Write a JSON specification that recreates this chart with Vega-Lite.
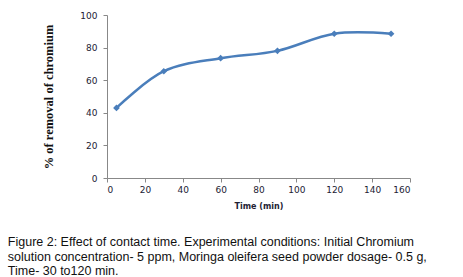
{
  "$schema": "https://vega.github.io/schema/vega-lite/v6.json",
  "width": 303,
  "height": 163,
  "autosize": {"type": "none"},
  "padding": {"left": 107, "top": 15, "right": 53, "bottom": 99},
  "background": "white",
  "config": {"view": {"stroke": null}},
  "title": {
    "text": ["Figure 2: Effect of contact time. Experimental conditions: Initial Chromium", "solution concentration- 5 ppm, Moringa oleifera seed powder dosage- 0.5 g,", "Time- 30 to120 min."],
    "orient": "bottom",
    "anchor": "start",
    "frame": "bounds",
    "font": "Liberation Sans",
    "fontSize": 12.5,
    "fontWeight": "normal",
    "color": "#111",
    "lineHeight": 14.5,
    "offset": 26,
    "dx": -35
  },
  "data": {
    "values": [
      {"time": 5, "removal": 43},
      {"time": 30, "removal": 65.5},
      {"time": 60, "removal": 73.5},
      {"time": 90, "removal": 78},
      {"time": 120, "removal": 88.5},
      {"time": 150, "removal": 88.5}
    ]
  },
  "mark": {"type": "line", "interpolate": "catmull-rom", "color": "#4a7ebb", "strokeWidth": 2.5, "point": {"shape": "diamond", "size": 45, "filled": true, "color": "#4a7ebb"}},
  "encoding": {
    "x": {
      "field": "time", "type": "quantitative",
      "scale": {"domain": [0, 160], "nice": false},
      "axis": {
        "values": [0, 20, 40, 60, 80, 100, 120, 140, 160],
        "grid": false, "domainColor": "#888", "tickColor": "#888", "tickSize": 4,
        "labelFont": "DejaVu Sans", "labelFontSize": 9, "labelColor": "#222233", "labelPadding": 3,
        "title": "Time (min)", "titleFont": "DejaVu Sans", "titleFontSize": 8, "titleFontWeight": "bold", "titleColor": "#222233", "titlePadding": 8
      }
    },
    "y": {
      "field": "removal", "type": "quantitative",
      "scale": {"domain": [0, 100], "nice": false},
      "axis": {
        "values": [0, 20, 40, 60, 80, 100],
        "grid": false, "domainColor": "#888", "tickColor": "#888", "tickSize": 4,
        "labelFont": "DejaVu Sans", "labelFontSize": 9, "labelColor": "#222233", "labelPadding": 6,
        "title": "% of removal of chromium", "titleFont": "Liberation Serif", "titleFontSize": 12.5, "titleFontWeight": "bold", "titleColor": "#111", "titlePadding": 24
      }
    }
  }
}
